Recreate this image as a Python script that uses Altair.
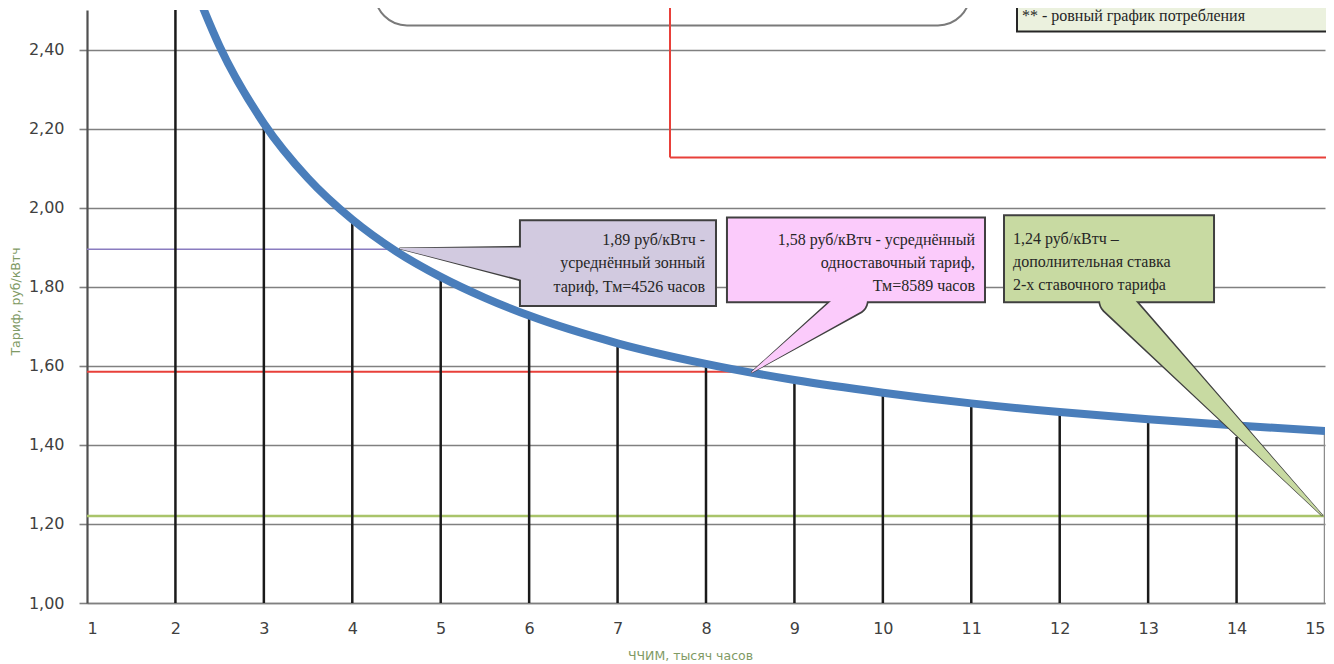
import altair as alt
import pandas as pd

# ---------------- data ----------------
curve_x = [2.2, 2.5, 3, 3.5, 4, 4.5, 5, 5.5, 6, 7, 8, 9, 10, 11, 12, 13, 14, 15]
curve_y = [2.567, 2.408, 2.213, 2.074, 1.97, 1.889, 1.825, 1.772, 1.727, 1.657, 1.605,
           1.564, 1.532, 1.505, 1.483, 1.465, 1.449, 1.435]

drop_x = [2, 3, 4, 5, 6, 7, 8, 9, 10, 11, 12, 13, 14, 15]
drop_top = [2.70, 2.21, 1.97, 1.825, 1.727, 1.657, 1.60, 1.564, 1.532, 1.505,
            1.483, 1.465, 1.42, 1.435]

y_ticks = [1.0, 1.2, 1.4, 1.6, 1.8, 2.0, 2.2, 2.4]
x_ticks = list(range(1, 16))

zone_tariff, zone_hours = 1.895, 4.526
single_tariff, single_hours = 1.585, 8.589
extra_rate = 1.22

purple_lines = ["1,89 руб/кВтч -", "усреднённый зонный", "тариф, Тм=4526 часов"]
pink_lines = ["1,58 руб/кВтч - усреднённый", "одноставочный тариф,", "Тм=8589 часов"]
green_lines = ["1,24 руб/кВтч –", "дополнительная ставка", "2-х ставочного тарифа"]
legend_text = "** - ровный график потребления"

# ---------------- tables ----------------
curve_df = pd.DataFrame({"x": curve_x, "y": curve_y})
drop_df = pd.DataFrame({"x": drop_x, "y": [1.0] * len(drop_x), "y2": drop_top,
                        "c": ["#1a1a1a"] * (len(drop_x) - 1) + ["#8c8c8c"]})
hline_df = pd.DataFrame({
    "x": [1, 1, 1],
    "x2": [zone_hours, single_hours, 15],
    "y": [zone_tariff, single_tariff, extra_rate],
    "c": ["#8a7cc0", "#e8403a", "#a9c46a"],
    "w": [1.6, 2.2, 2.4],
})

boxes_df = pd.DataFrame({
    "x": [5.896, 8.237, 11.370], "x2": [8.113, 11.155, 13.745],
    "y": [1.751, 1.761, 1.761], "y2": [1.968, 1.975, 1.981],
    "fill": ["#d2cae0", "#fbcbfb", "#c8daa2"],
})

ptr_df = pd.DataFrame({
    "id": ["p", "p", "k", "k", "g", "g"],
    "o": [0, 1, 0, 1, 0, 1],
    "x": [4.54, 5.953, 8.52, 9.662, 14.966, 12.625],
    "y": [1.897, 1.858, 1.584, 1.766, 1.222, 1.766],
    "w": [0, 33, 0, 28, 0, 30],
    "fill": ["#d2cae0", "#d2cae0", "#fbcbfb", "#fbcbfb", "#c8daa2", "#c8daa2"],
})
ptr_df["wo"] = ptr_df["w"] + 3.5
ptr_df.loc[ptr_df["o"] == 0, "wo"] = 2

text_right = pd.DataFrame({
    "x": [7.99] * 3 + [11.042] * 3,
    "y": [1.917, 1.859, 1.799, 1.917, 1.859, 1.801],
    "t": purple_lines + pink_lines,
})
text_left = pd.DataFrame({
    "x": [11.472] * 3 + [11.573],
    "y": [1.922, 1.862, 1.804, 2.486],
    "t": green_lines + [legend_text],
})

top_rects = pd.DataFrame({"x": [4.257], "x2": [10.985], "y": [2.461], "y2": [2.64]})
legend_rect = pd.DataFrame({"x": [11.517], "x2": [15.3], "y": [2.4455], "y2": [2.64]})
red_v = pd.DataFrame({"x": [7.593], "y": [2.127], "y2": [2.64]})
red_h = pd.DataFrame({"x": [7.593], "x2": [15.3], "y": [2.127]})

# ---------------- scales / axes ----------------
xs = alt.Scale(domain=[1, 15], nice=False, zero=False)
ys = alt.Scale(domain=[1.0, 2.5], nice=False, zero=False)

title_color = "#7f9a65"
x_axis = alt.Axis(values=x_ticks, format="d", grid=False, ticks=False, tickSize=0,
                  domainColor="#808080", domainWidth=1.5,
                  labelFont="DejaVu Sans", labelFontSize=16, labelColor="#404040",
                  labelPadding=17, title="ЧЧИМ, тысяч часов", titleFont="DejaVu Sans",
                  titleFontSize=12.5, titleFontWeight="normal", titleColor=title_color,
                  titleX=603, titleY=52, titleAlign="center", titleBaseline="middle")
y_axis = alt.Axis(values=y_ticks, labelExpr="replace(format(datum.value, '.2f'), '.', ',')",
                  grid=True, gridColor="#808080", gridWidth=1.6,
                  tickSize=8, tickColor="#808080", tickWidth=1.6,
                  domainColor="#505050", domainWidth=2.2,
                  labelFont="DejaVu Sans", labelFontSize=16, labelColor="#404040",
                  labelPadding=15, title="Тариф, руб/кВтч", titleFont="DejaVu Sans",
                  titleFontSize=12.5, titleFontWeight="normal", titleColor=title_color,
                  titleX=-72, titleY=291, titleAngle=270, titleAlign="center",
                  titleBaseline="middle")


def X(f="x"):
    return alt.X(f"{f}:Q", scale=xs, axis=x_axis)


def Y(f="y"):
    return alt.Y(f"{f}:Q", scale=ys, axis=y_axis)


hlines = alt.Chart(hline_df).mark_rule().encode(
    x=X(), x2="x2:Q", y=Y(),
    color=alt.Color("c:N", scale=None), strokeWidth=alt.StrokeWidth("w:Q", scale=None))

drops = alt.Chart(drop_df).mark_rule(strokeWidth=2.5, clip=True).encode(
    x=X(), y=Y(), y2="y2:Q", color=alt.Color("c:N", scale=None))

curve = alt.Chart(curve_df).mark_line(color="#4a7ebb", strokeWidth=8, clip=True,
                                      interpolate="monotone").encode(x=X(), y=Y())

round_box = alt.Chart(top_rects).mark_rect(fill="white", stroke="#7a7a7a", strokeWidth=2,
                                           cornerRadius=32, clip=False).encode(
    x=X(), x2="x2:Q", y=Y(), y2="y2:Q")
leg_box = alt.Chart(legend_rect).mark_rect(fill="#ebf1de", stroke="#262626", strokeWidth=2,
                                           clip=False).encode(
    x=X(), x2="x2:Q", y=Y(), y2="y2:Q")
red1 = alt.Chart(red_v).mark_rule(color="#e8403a", strokeWidth=2, clip=False).encode(
    x=X(), y=Y(), y2="y2:Q")
red2 = alt.Chart(red_h).mark_rule(color="#e8403a", strokeWidth=2, clip=False).encode(
    x=X(), x2="x2:Q", y=Y())

ptr_out = alt.Chart(ptr_df).mark_trail(color="#404040").encode(
    x=X(), y=Y(), size=alt.Size("wo:Q", scale=None, legend=None),
    detail="id:N", order="o:Q")
boxes = alt.Chart(boxes_df).mark_rect(stroke="#404040", strokeWidth=2).encode(
    x=X(), x2="x2:Q", y=Y(), y2="y2:Q", fill=alt.Fill("fill:N", scale=None))
ptr_fill = alt.Chart(ptr_df).mark_trail().encode(
    x=X(), y=Y(), size=alt.Size("w:Q", scale=None, legend=None),
    color=alt.Color("fill:N", scale=None), detail="id:N", order="o:Q")

txt_r = alt.Chart(text_right).mark_text(align="right", baseline="middle",
                                        font="Liberation Serif", fontSize=16,
                                        color="#262626").encode(x=X(), y=Y(), text="t:N")
txt_l = alt.Chart(text_left).mark_text(align="left", baseline="middle",
                                       font="Liberation Serif", fontSize=16,
                                       color="#262626", clip=False).encode(
    x=X(), y=Y(), text="t:N")

chart = alt.layer(
    hlines, drops, curve, round_box, red1, red2, leg_box,
    ptr_out, boxes, ptr_fill, txt_r, txt_l
).properties(
    width=1238, height=593,
    padding={"left": 79, "top": 2, "right": 1, "bottom": 61},
    autosize=alt.AutoSizeParams(type="none"),
    background="white",
).configure_view(stroke=None)

chart.save("out.html", embed_options={"renderer": "svg", "actions": False})
